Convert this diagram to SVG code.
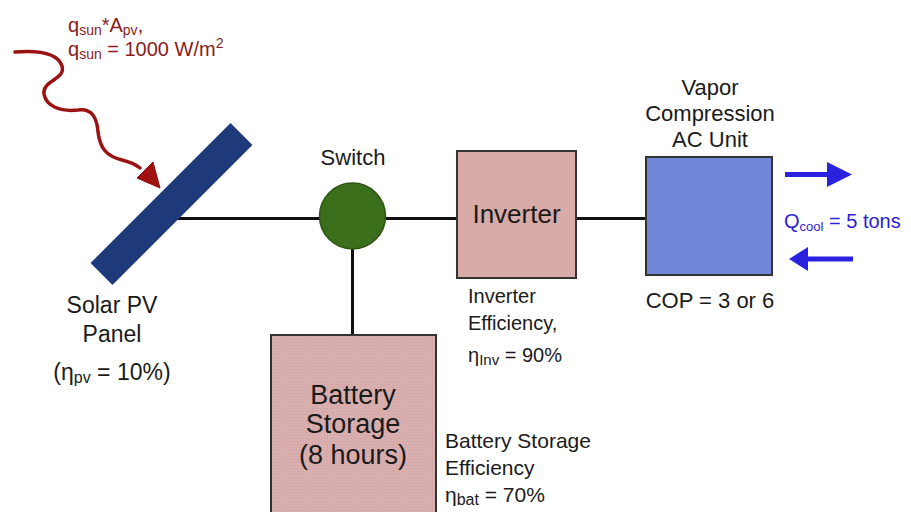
<svg xmlns="http://www.w3.org/2000/svg" width="911" height="512" viewBox="0 0 911 512">
<style>
text{font-family:"Liberation Sans",Arial,sans-serif;fill:#1a1a1a}
.wire{stroke:#111;stroke-width:3;fill:none}
.box{stroke:#333;stroke-width:2}
.red{fill:#8a1c1c}
.blue{fill:#2b22d6}
</style>
<defs>
<pattern id="dots" width="3" height="3" patternUnits="userSpaceOnUse">
<rect width="3" height="3" fill="#d9aeae"/>
<rect width="1" height="1" fill="#cfa0a0"/>
</pattern>
</defs>
<rect width="911" height="512" fill="#fff"/>

<g id="connectors">
<line class="wire" x1="172" y1="218.5" x2="320" y2="218.5"/>
<line class="wire" x1="386" y1="218.5" x2="457" y2="218.5"/>
<line class="wire" x1="576" y1="218.5" x2="646" y2="218.5"/>
<line class="wire" x1="352.5" y1="248" x2="352.5" y2="335"/>
</g>

<g id="sun">
<path d="M15,52 C40,50 58,54 62,66 C66,80 42,80 44,94 C46,106 60,112 78,110 C92,108 97,118 98,132 C100,148 106,156 122,160 C130,162 135,164 140,168" fill="none" stroke="#9b1212" stroke-width="3.5" stroke-linecap="round"/>
<polygon points="137,178 153,162 160,188" fill="#a01010" stroke="#8a0e0e" stroke-width="1"/>
<text class="red" x="68" y="32" font-size="20">q<tspan font-size="14" dy="3">sun</tspan><tspan dy="-3">*A</tspan><tspan font-size="14" dy="3">pv</tspan><tspan dy="-3">,</tspan></text>
<text class="red" x="68" y="56" font-size="20">q<tspan font-size="14" dy="3">sun</tspan><tspan dy="-3"> = 1000 W/m</tspan><tspan font-size="14" dy="-8">2</tspan></text>
</g>

<g id="panel">
<rect x="72.5" y="188.5" width="198" height="31" fill="#1f3a7a" transform="rotate(-45 171.5 204)"/>
<text x="112" y="313" font-size="23" text-anchor="middle">Solar PV</text>
<text x="112" y="342" font-size="23" text-anchor="middle">Panel</text>
<text x="112" y="380" font-size="23" text-anchor="middle">(η<tspan font-size="16" dy="3">pv</tspan><tspan dy="-3"> = 10%)</tspan></text>
</g>

<g id="switch">
<circle cx="352.5" cy="216" r="33" fill="#3b6e1b" stroke="#2d5614" stroke-width="1.5"/>
<text x="353" y="165" font-size="22" text-anchor="middle">Switch</text>
</g>

<g id="inverter">
<rect class="box" x="457" y="151" width="119" height="127" fill="#d8aba9"/>
<text x="516.5" y="223" font-size="26" text-anchor="middle">Inverter</text>
<text x="468" y="303" font-size="20">Inverter</text>
<text x="468" y="330" font-size="20">Efficiency,</text>
<text x="468" y="362" font-size="20">η<tspan font-size="15" dy="3">Inv</tspan><tspan dy="-3"> = 90%</tspan></text>
</g>

<g id="battery">
<rect class="box" x="271" y="335" width="165" height="190" fill="url(#dots)"/>
<text x="353" y="404" font-size="27" text-anchor="middle">Battery</text>
<text x="353" y="433" font-size="27" text-anchor="middle">Storage</text>
<text x="353" y="464" font-size="27" text-anchor="middle">(8 hours)</text>
<text x="445" y="448" font-size="21">Battery Storage</text>
<text x="445" y="475" font-size="21">Efficiency</text>
<text x="445" y="502" font-size="21">η<tspan font-size="16" dy="3">bat</tspan><tspan dy="-3"> = 70%</tspan></text>
</g>

<g id="ac">
<rect class="box" x="646" y="157" width="126" height="118" fill="#6e87d6"/>
<text x="710" y="95" font-size="22" text-anchor="middle">Vapor</text>
<text x="710" y="121" font-size="22" text-anchor="middle">Compression</text>
<text x="710" y="147" font-size="22" text-anchor="middle">AC Unit</text>
<text x="710" y="308" font-size="22" text-anchor="middle">COP = 3 or 6</text>
</g>

<g id="cooling">
<line x1="785" y1="174.5" x2="830" y2="174.5" stroke="#2b22e0" stroke-width="5"/>
<polygon points="827,162 852,174.5 827,187" fill="#2b22e0"/>
<line x1="806" y1="259" x2="853" y2="259" stroke="#2b22e0" stroke-width="5"/>
<polygon points="808,247 789,259 808,271" fill="#2b22e0"/>
<text class="blue" x="784" y="228" font-size="20">Q<tspan font-size="13" dy="3">cool</tspan><tspan dy="-3"> = 5 tons</tspan></text>
</g>
</svg>
